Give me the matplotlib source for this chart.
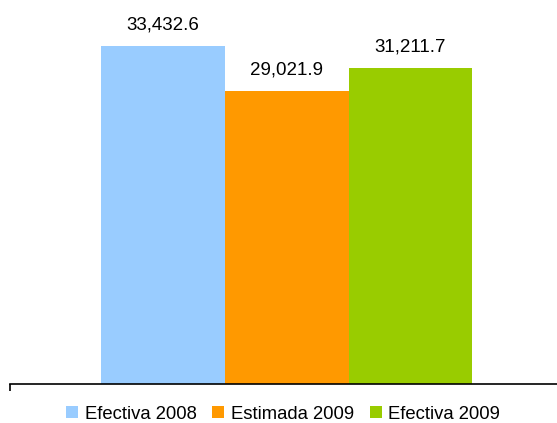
import matplotlib.pyplot as plt
from matplotlib.patches import Patch

plt.rcParams['font.family'] = ['Liberation Sans', 'DejaVu Sans']

series = ['Efectiva 2008', 'Estimada 2009', 'Efectiva 2009']
values = [33432.6, 29021.9, 31211.7]
colors = ['#99CCFF', '#FF9900', '#99CC00']

W, H = 557, 423
fig = plt.figure(figsize=(W / 100, H / 100), dpi=100)
# axes: left at x=10px, right at the figure edge, baseline at y=384px
ax = fig.add_axes([10 / W, (H - 384) / H, 1 - 10 / W, 384 / H])

x = [0, 1, 2]
ax.bar(x, values, width=1.0, color=colors, edgecolor='none')
for xi, v in zip(x, values):
    ax.annotate(f'{v:,.1f}', (xi, v), xytext=(0, 9), textcoords='offset points',
                ha='center', va='bottom', fontsize=13.5)

bw = 123.7
ax.set_xlim((10 - 163) / bw, (557 - 163) / bw)
ax.set_ylim(0, 384 / (338 / 33432.6))

for s in ['top', 'right', 'left']:
    ax.spines[s].set_visible(False)
ax.spines['bottom'].set_linewidth(1.2)
ax.set_xticks([ax.get_xlim()[0]])
ax.set_xticklabels([''])
ax.tick_params(axis='x', length=5, width=1.2, direction='out')
ax.set_yticks([])

handles = [Patch(facecolor=c, edgecolor='none') for c in colors]
fig.legend(handles, series, loc='center', bbox_to_anchor=(283 / W, (H - 414) / H),
           ncol=3, frameon=False, fontsize=13.3, handlelength=0.66, handleheight=0.66,
           handletextpad=0.35, columnspacing=0.85, borderpad=0)

fig.savefig('out.png', dpi=100)
